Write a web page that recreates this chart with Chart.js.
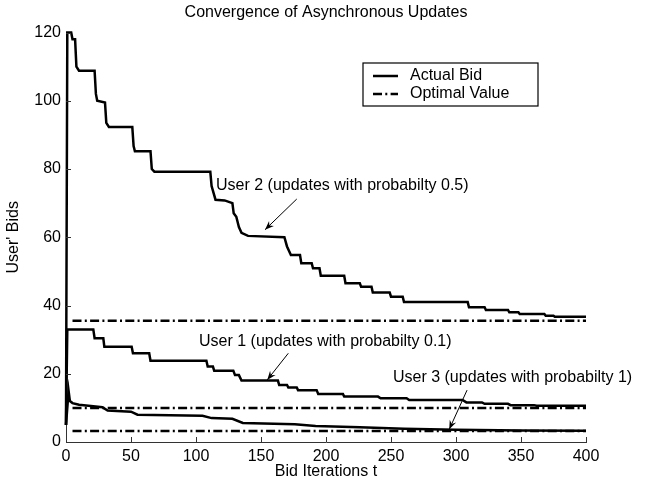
<!DOCTYPE html>
<html>
<head>
<meta charset="utf-8">
<title>Convergence of Asynchronous Updates</title>
<script src="https://cdn.jsdelivr.net/npm/chart.js@4.4.1/dist/chart.umd.min.js"></script>
<style>
    body { margin: 0; background: #fff; }
    #wrap { width: 651px; height: 481px; }
</style>
</head>
<body>
<div id="wrap"><canvas id="bids_chart" width="651" height="481"></canvas></div>
<script>
var iterTicks = [0, 50, 100, 150, 200, 250, 300, 350, 400];
var bidTicks = [0, 20, 40, 60, 80, 100, 120];

// [iteration, bid] break points
var user2Bids = [
    [0, 5], [1, 120], [4, 120], [5, 118], [7, 118], [8, 110], [10, 108.8], [22, 108.8],
    [23, 102], [24, 100], [30, 99.5], [31, 93.5], [33, 92.3], [51, 92.3], [52, 86.7],
    [53, 85.2], [65, 85.2], [66, 80], [68, 79.2], [111, 79.2], [112, 75], [115, 71],
    [122, 70.8], [128, 70], [129, 67], [131, 66], [133, 63], [135, 61.3], [140, 60.4],
    [168, 60], [170, 57.3], [173, 54.8], [180, 54.8], [181, 52.4], [189, 52.4], [190, 50.9],
    [195, 50.9], [196, 48.7], [214, 48.7], [215, 46.5], [226, 46.5], [227, 45.5], [235, 45.5],
    [236, 43.8], [249, 43.8], [250, 42.6], [259, 42.6], [260, 41], [309, 41], [310, 39.5],
    [322, 39.5], [323, 38.7], [340, 38.7], [341, 38], [348, 38], [349, 37.5], [368, 37.5],
    [369, 37], [375, 37], [376, 36.7], [400, 36.7]
];
var user1Bids = [
    [0, 5], [1, 33], [21, 33], [22, 30.4], [28.7, 30.4], [29.5, 27.9], [50.5, 27.9],
    [51.5, 26], [64, 26], [65, 23.8], [108, 23.8], [109, 22.1], [113, 22.1], [114, 20.9],
    [128.7, 20.9], [130, 19.6], [133, 19.6], [135, 18], [163, 18], [164, 16.7], [170, 16.7],
    [171, 16], [177.5, 16], [178.5, 15.2], [192.8, 15.2], [194, 14.1], [213, 14.1],
    [214, 13.3], [240, 13.3], [242, 12.8], [262, 12.8], [264, 12.3], [305, 12.3],
    [308, 11.6], [320, 11.6], [322, 11.2], [340, 11.2], [342, 10.8], [360, 10.8],
    [362, 10.6], [400, 10.6]
];
var user3Bids = [
    [0, 5], [2, 15], [3, 12], [5, 11.4], [10, 10.9], [21, 10.5], [28, 10.2], [32, 9.2],
    [50, 8.9], [55, 8], [105, 7.7], [112, 7], [128, 6.8], [136, 5.6], [176, 5.2],
    [192, 4.7], [226, 4.3], [260, 3.9], [300, 3.6], [350, 3.4], [400, 3.3]
];

var optimalFrom = 5;
var optimalTo = 400;
var optimalValues = [35.5, 10, 3.2];

var notes = [
    { text: "User 2 (updates with probabilty 0.5)", at: [115.4, 75], from: [177.5, 71.2], to: [153.1, 62.2] },
    { text: "User 1 (updates with probabilty 0.1)", at: [102.3, 29.4], from: [171, 26], to: [154.8, 18.2] },
    { text: "User 3 (updates with probabilty 1)", at: [251.5, 18.8], from: [308.5, 15.2], to: [294.8, 3.7] }
];

var FONT = { family: '"Liberation Sans", Arial, Helvetica, sans-serif', size: 16 };
var fontStr = FONT.size + 'px ' + FONT.family;
var dashDot = [9, 3.3, 2, 3.3];

function toPoints(pairs) {
    return pairs.map(function (p) { return { x: p[0], y: p[1] }; });
}

var datasets = [];
[user2Bids, user1Bids, user3Bids].forEach(function (bids) {
    datasets.push({
        label: 'Actual Bid',
        data: toPoints(bids),
        borderColor: '#000',
        borderWidth: 2.5,
        pointRadius: 0,
        tension: 0,
        clip: 6
    });
});
optimalValues.forEach(function (v) {
    datasets.push({
        label: 'Optimal Value',
        data: toPoints([[optimalFrom, v], [optimalTo, v]]),
        borderColor: '#000',
        borderWidth: 2.5,
        borderDash: dashDot,
        borderCapStyle: 'butt',
        pointRadius: 0,
        clip: 6
    });
});

var matlabExtras = {
    id: 'matlabExtras',
    afterDraw: function (chart) {
        var ctx = chart.ctx;
        var area = chart.chartArea;
        var xs = chart.scales.x;
        var ys = chart.scales.y;
        ctx.save();

        // inward tick marks
        ctx.strokeStyle = '#333';
        ctx.lineWidth = 1;
        ctx.beginPath();
        xs.ticks.forEach(function (t) {
            var px = Math.round(xs.getPixelForValue(t.value)) + 0.5;
            ctx.moveTo(px, area.bottom);
            ctx.lineTo(px, area.bottom - 5);
        });
        ys.ticks.forEach(function (t) {
            var py = Math.round(ys.getPixelForValue(t.value)) + 0.5;
            ctx.moveTo(area.left, py);
            ctx.lineTo(area.left + 5, py);
        });
        ctx.stroke();

        // legend box
        var lx = area.left + 297, ly = area.top + 30.5;
        ctx.fillStyle = '#fff';
        ctx.fillRect(lx, ly, 175, 43);
        ctx.strokeStyle = '#000';
        ctx.lineWidth = 1.2;
        ctx.strokeRect(lx, ly, 175, 43);
        ctx.lineWidth = 2.5;
        ctx.beginPath();
        ctx.moveTo(lx + 10, ly + 13);
        ctx.lineTo(lx + 35, ly + 13);
        ctx.stroke();
        ctx.setLineDash(dashDot);
        ctx.beginPath();
        ctx.moveTo(lx + 10, ly + 31);
        ctx.lineTo(lx + 35, ly + 31);
        ctx.stroke();
        ctx.setLineDash([]);
        ctx.fillStyle = '#000';
        ctx.font = fontStr;
        ctx.textBaseline = 'middle';
        ctx.textAlign = 'left';
        ctx.fillText('Actual Bid', lx + 47, ly + 13);
        ctx.fillText('Optimal Value', lx + 47, ly + 31);

        // text arrows
        notes.forEach(function (n) {
            ctx.fillText(n.text, xs.getPixelForValue(n.at[0]), ys.getPixelForValue(n.at[1]));
            var x1 = xs.getPixelForValue(n.from[0]), y1 = ys.getPixelForValue(n.from[1]);
            var x2 = xs.getPixelForValue(n.to[0]), y2 = ys.getPixelForValue(n.to[1]);
            var a = Math.atan2(y2 - y1, x2 - x1);
            ctx.lineWidth = 1;
            ctx.beginPath();
            ctx.moveTo(x1, y1);
            ctx.lineTo(x2, y2);
            ctx.stroke();
            ctx.beginPath();
            ctx.moveTo(x2, y2);
            ctx.lineTo(x2 - 9 * Math.cos(a) + 3.5 * Math.sin(a), y2 - 9 * Math.sin(a) - 3.5 * Math.cos(a));
            ctx.lineTo(x2 - 6 * Math.cos(a), y2 - 6 * Math.sin(a));
            ctx.lineTo(x2 - 9 * Math.cos(a) - 3.5 * Math.sin(a), y2 - 9 * Math.sin(a) + 3.5 * Math.cos(a));
            ctx.closePath();
            ctx.fill();
        });
        ctx.restore();
    }
};

var ctx = document.getElementById('bids_chart');

var bidChart = new Chart(ctx, {
    type: 'line',
    data: { datasets: datasets },
    plugins: [matlabExtras],
    options: {
        responsive: false,
        animation: false,
        layout: { padding: { left: 0, right: 65, top: 0, bottom: 0 } },
        plugins: {
            legend: { display: false },
            tooltip: { enabled: false },
            title: {
                display: true,
                fullSize: false,
                text: 'Convergence of Asynchronous Updates',
                color: '#000',
                font: { family: FONT.family, size: FONT.size, weight: 'normal' },
                padding: { top: 3, bottom: 10.3 }
            }
        },
        scales: {
            x: {
                type: 'linear',
                min: 0,
                max: 400,
                afterBuildTicks: function (scale) {
                    scale.ticks = iterTicks.map(function (v) { return { value: v }; });
                },
                afterFit: function (scale) { scale.height = 39; },
                grid: { drawOnChartArea: false, drawTicks: false },
                border: { color: '#333', width: 1 },
                ticks: { color: '#000', font: FONT, padding: 5, maxRotation: 0, autoSkip: false },
                title: { display: true, text: 'Bid Iterations t', color: '#000', font: FONT, padding: { top: 0, bottom: 0 } }
            },
            y: {
                type: 'linear',
                min: 0,
                max: 120,
                afterBuildTicks: function (scale) {
                    scale.ticks = bidTicks.map(function (v) { return { value: v }; });
                },
                afterFit: function (scale) { scale.width = 66; },
                grid: { drawOnChartArea: false, drawTicks: false },
                border: { color: '#333', width: 1 },
                ticks: { color: '#000', font: FONT, padding: 5, autoSkip: false },
                title: { display: true, text: "User' Bids", color: '#000', font: FONT, padding: { top: 4, bottom: 0 } }
            }
        }
    }
});
</script>
</body>
</html>
